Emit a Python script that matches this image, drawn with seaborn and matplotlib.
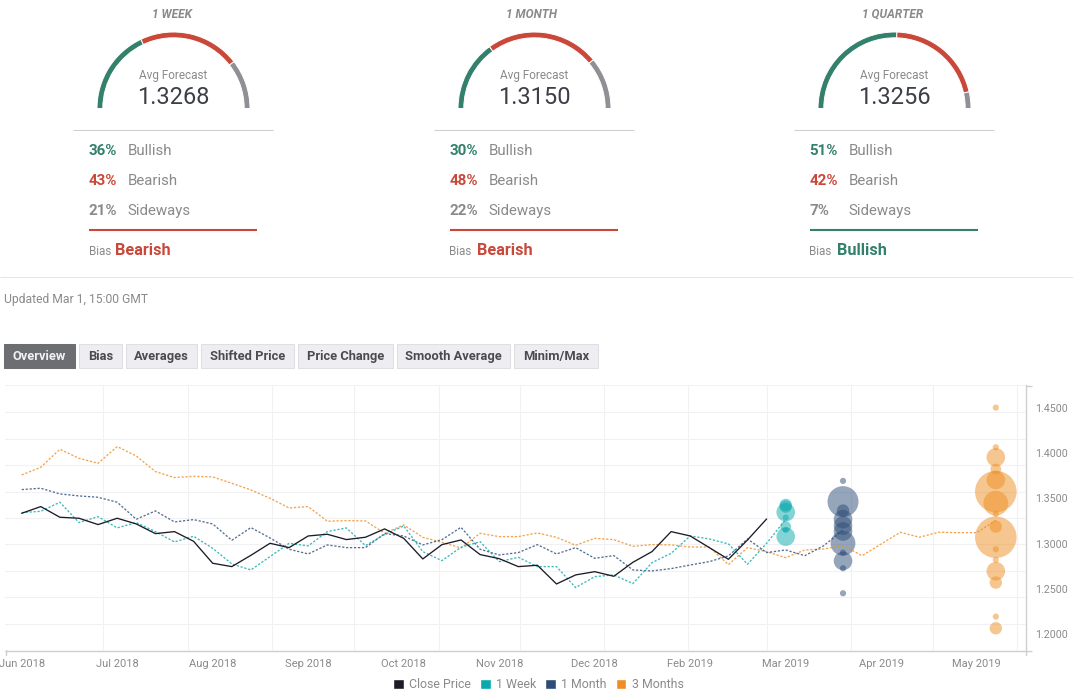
import pandas as pd
import matplotlib
matplotlib.use("Agg")
import matplotlib.pyplot as plt
import seaborn as sns
from matplotlib.patches import Wedge, Rectangle

# weekly series
close_price = [1.3335, 1.3409, 1.3291, 1.3280, 1.3210, 1.3280, 1.3217, 1.3110, 1.3132, 1.3025,
               1.2782, 1.2745, 1.2870, 1.3003, 1.2955, 1.3084, 1.3103, 1.3044, 1.3070, 1.3162,
               1.3058, 1.2830, 1.2988, 1.3040, 1.2878, 1.2833, 1.2745, 1.2760, 1.2553, 1.2653,
               1.2689, 1.2638, 1.2793, 1.2911, 1.3132, 1.3084, 1.2955, 1.2826, 1.3040, 1.3272]
one_week = [1.3342, 1.3357, 1.3457, 1.3232, 1.3298, 1.3173, 1.3232, 1.3132, 1.3018, 1.3081,
            1.2948, 1.2775, 1.2708, 1.2856, 1.3003, 1.2974, 1.3132, 1.3173, 1.2977, 1.3100,
            1.3195, 1.2911, 1.2811, 1.2959, 1.3021, 1.2800, 1.2848, 1.2745, 1.2745, 1.2513,
            1.2634, 1.2653, 1.2557, 1.2789, 1.2892, 1.3084, 1.3051, 1.2996, 1.2771, 1.3003,
            1.3268]
one_month = [1.3597, 1.3612, 1.3549, 1.3527, 1.3512, 1.3457, 1.3269, 1.3361, 1.3239, 1.3265,
             1.3217, 1.3036, 1.3177, 1.3062, 1.2937, 1.2885, 1.2985, 1.2955, 1.2955, 1.3110,
             1.3084, 1.2985, 1.3043, 1.3180, 1.2937, 1.2874, 1.2900, 1.2988, 1.2885, 1.2955,
             1.2837, 1.2867, 1.2708, 1.2697, 1.2723, 1.2763, 1.2800, 1.2863, 1.3051, 1.2900,
             1.2929, 1.2866, 1.2977, 1.3150]
three_months = [1.3759, 1.3844, 1.4043, 1.3943, 1.3888, 1.4073, 1.3969, 1.3796, 1.3730, 1.3744,
                1.3737, 1.3667, 1.3593, 1.3501, 1.3394, 1.3409, 1.3247, 1.3254, 1.3250, 1.3115,
                1.3206, 1.3069, 1.3014, 1.2951, 1.3113, 1.3077, 1.3077, 1.3117, 1.3069, 1.2981,
                1.3058, 1.3043, 1.2970, 1.2988, 1.2985, 1.2962, 1.2962, 1.2767, 1.2955, 1.2911,
                1.2844, 1.2929, 1.2940, 1.2977, 1.2866, 1.2996, 1.3125, 1.3070, 1.3125, 1.3121,
                1.3121, 1.3256]

# forecast bubbles: value and number of forecasters
week_values = [1.3427, 1.3409, 1.3346, 1.3287, 1.3188, 1.3151, 1.3077]
week_counts = [4, 4, 9, 1, 3, 1, 9]
month_values = [1.3693, 1.3464, 1.3365, 1.3270, 1.3199, 1.3133, 1.3003, 1.2900, 1.2808, 1.2727, 1.2450]
month_counts = [1, 25, 4, 9, 9, 9, 16, 1, 9, 1, 1]
quarter_values = [1.4504, 1.4065, 1.3954, 1.3825, 1.3704, 1.3575, 1.3446, 1.3328, 1.3188, 1.3070,
                  1.2937, 1.2819, 1.2694, 1.2568, 1.2192, 1.2063]
quarter_counts = [1, 1, 9, 3, 9, 45, 16, 1, 4, 45, 1, 1, 9, 4, 1, 4]

month_labels = ["Jun 2018", "Jul 2018", "Aug 2018", "Sep 2018", "Oct 2018", "Nov 2018", "Dec 2018",
                "Feb 2019", "Mar 2019", "Apr 2019", "May 2019"]
price_ticks = [1.20, 1.25, 1.30, 1.35, 1.40, 1.45]

# gauge panels
horizons = ["1 WEEK", "1 MONTH", "1 QUARTER"]
averages = ["1.3268", "1.3150", "1.3256"]
bullish = [36, 30, 51]
bearish = [43, 48, 42]
sideways = [21, 22, 7]
bias = ["Bearish", "Bearish", "Bullish"]
buttons = ["Overview", "Bias", "Averages", "Shifted Price", "Price Change", "Smooth Average", "Minim/Max"]

GREEN = "#33806c"
RED = "#c9483a"
GREY = "#8f8f96"
TEXT = "#8a8a8a"
colors = {"Close Price": "#1c1c28", "1 Week": "#0aa9ad", "1 Month": "#2d4c77", "3 Months": "#ef8e22"}

sns.set_theme(style="white")
plt.rcParams["font.family"] = ["Roboto", "DejaVu Sans"]

W, H = 1073, 692
fig = plt.figure(figsize=(W / 100, H / 100), dpi=100)

# page furniture is placed in pixel coordinates on a full-figure axes
page = fig.add_axes([0, 0, 1, 1])
page.set_xlim(0, W)
page.set_ylim(H, 0)
page.axis("off")


def hline(x0, x1, y, color, lw=0.75):
    page.plot([x0, x1], [y, y], color=color, lw=lw, solid_capstyle="butt")


# y is inverted on the page axes, so gauge angles run clockwise from the left
gauge_centers = [173.5, 534.5, 894.5]
title_shift = [-2, -3.5, -1.5]
for i, cx in enumerate(gauge_centers):
    start = 180
    for share, col in zip([bullish[i], bearish[i], sideways[i]], [GREEN, RED, GREY]):
        end = start + share * 1.8
        page.add_patch(Wedge((cx, 108.5), 76.5, start, end, width=5.8, fc=col, ec="white", lw=0.7))
        start = end
    page.text(cx + title_shift[i], 14, horizons[i], ha="center", va="center", fontsize=8.6, color=TEXT,
              style="italic", weight="bold")
    page.text(cx, 75, "Avg Forecast", ha="center", va="center", fontsize=8.5, color=TEXT)
    page.text(cx - 0.5, 97.5, averages[i], ha="center", va="center", fontsize=17, color="#3c3f47")
    hline(cx - 100.5, cx + 99.5, 130, "#cfcfcf")
    left = cx - 85
    rows = [(bullish[i], "Bullish", GREEN), (bearish[i], "Bearish", RED), (sideways[i], "Sideways", TEXT)]
    for (pct, name, col), y in zip(rows, [151, 181, 211]):
        page.text(left, y, f"{pct}%", ha="left", va="center", fontsize=10.9, color=col, weight="bold")
        page.text(left + 39, y, name, ha="left", va="center", fontsize=10.8, color=TEXT)
    bias_col = GREEN if bias[i] == "Bullish" else RED
    hline(left + 0.5, left + 168.5, 230, bias_col, lw=1.5)
    page.text(left, 251.5, "Bias", ha="left", va="center", fontsize=8.4, color=TEXT)
    page.text(left + 27, 250.5, bias[i], ha="left", va="center", fontsize=11.7, color=bias_col, weight="bold")

hline(0, W, 277, "#e6e6e6")
page.text(4, 299, "Updated Mar 1, 15:00 GMT", ha="left", va="center", fontsize=8.7, color=TEXT)

button_edges = [(4, 74.5), (79, 121.5), (126, 196.5), (201, 293.5), (298, 392.5), (397, 510), (514, 597.5)]
for name, (x0, x1) in zip(buttons, button_edges):
    active = name == "Overview"
    page.add_patch(Rectangle((x0, 344), x1 - x0, 23.5, fc="#6d6e72" if active else "#eeeef2",
                             ec="#6d6e72" if active else "#dfdfe3", lw=0.75))
    page.text((x0 + x1) / 2, 356.5, name, ha="center", va="center", fontsize=9.3,
              color="#f2f2f2" if active else "#4a4a52", weight="bold")

# axis ends that stick out past the plot
hline(5, 1032, 650.5, "#cfcfcf", lw=1)
hline(1026, 1032, 385.5, "#cfcfcf", lw=1)
page.plot([1026, 1026], [385, 655], color="#cfcfcf", lw=1)
page.plot([5.5, 5.5], [650, 655], color="#cfcfcf", lw=1)

# chart
ax = fig.add_axes([5 / W, 1 - 650.5 / H, 1021 / W, 265.5 / H])
ax.patch.set_alpha(0)

series = {"Close Price": close_price, "1 Week": one_week, "1 Month": one_month, "3 Months": three_months}
lines = pd.concat([pd.DataFrame({"week": range(len(v)), "price": v, "series": k}) for k, v in series.items()])

sns.lineplot(data=lines, x="week", y="price", hue="series", style="series", palette=colors,
             hue_order=["3 Months", "1 Month", "1 Week", "Close Price"],
             dashes={"Close Price": "", "1 Week": (1.7, 1.3), "1 Month": (1.7, 1.3), "3 Months": (1.7, 1.3)},
             linewidth=0.95, errorbar=None, legend=False, ax=ax)
for line in ax.lines:
    if line.get_linestyle() != "-":
        line.set_alpha(0.8)

bubbles = pd.concat([
    pd.DataFrame({"week": 40, "price": week_values, "count": week_counts, "series": "1 Week"}),
    pd.DataFrame({"week": 43, "price": month_values, "count": month_counts, "series": "1 Month"}),
    pd.DataFrame({"week": 51, "price": quarter_values, "count": quarter_counts, "series": "3 Months"}),
])
sns.scatterplot(data=bubbles, x="week", y="price", hue="series", palette=colors, size="count",
                sizes=(19.9, 19.9 * 45), size_norm=(1, 45), alpha=0.5, linewidth=0, legend=False, ax=ax)

ax.set_xlim(-0.874, 52.58)
ax.set_ylim(1.1817, 1.4754)
ax.set_xlabel("")
ax.set_ylabel("")
ax.set_xticks(range(0, 55, 5))
ax.set_xticklabels(month_labels)
ax.yaxis.tick_right()
ax.set_yticks(price_ticks)
ax.set_yticklabels([f"{t:.4f}" for t in price_ticks])
# the grid does not line up with the labels in this chart
ax.set_xticks([0, 4.26, 8.71, 13.1, 17.4, 21.85, 26.1, 30.5, 34.9, 39, 43.4, 47.7, 52.1], minor=True)
ax.set_yticks([1.4751, 1.4452, 1.4160, 1.3866, 1.3574, 1.3280, 1.2992, 1.2694, 1.2406, 1.2107], minor=True)
ax.grid(False)
ax.grid(which="minor", color="#f1f1f4", lw=0.8)
ax.tick_params(which="both", length=0)
ax.tick_params(axis="x", labelsize=8, labelcolor=TEXT, pad=6)
ax.tick_params(axis="y", labelsize=7.7, labelcolor=TEXT, pad=6.3)
ax.set_axisbelow(True)
sns.despine(ax=ax, left=True, bottom=True, top=True, right=True)

handles = [Rectangle((0, 0), 1, 1, fc=c) for c in colors.values()]
fig.legend(handles, list(colors.keys()), loc="center", bbox_to_anchor=(538.5 / W, 1 - 684.5 / H), ncol=4,
           frameon=False, fontsize=8.9, labelcolor=TEXT, handlelength=0.85, handleheight=0.85,
           handletextpad=0.45, columnspacing=0.72, borderpad=0)

fig.savefig("out.png", dpi=100)
